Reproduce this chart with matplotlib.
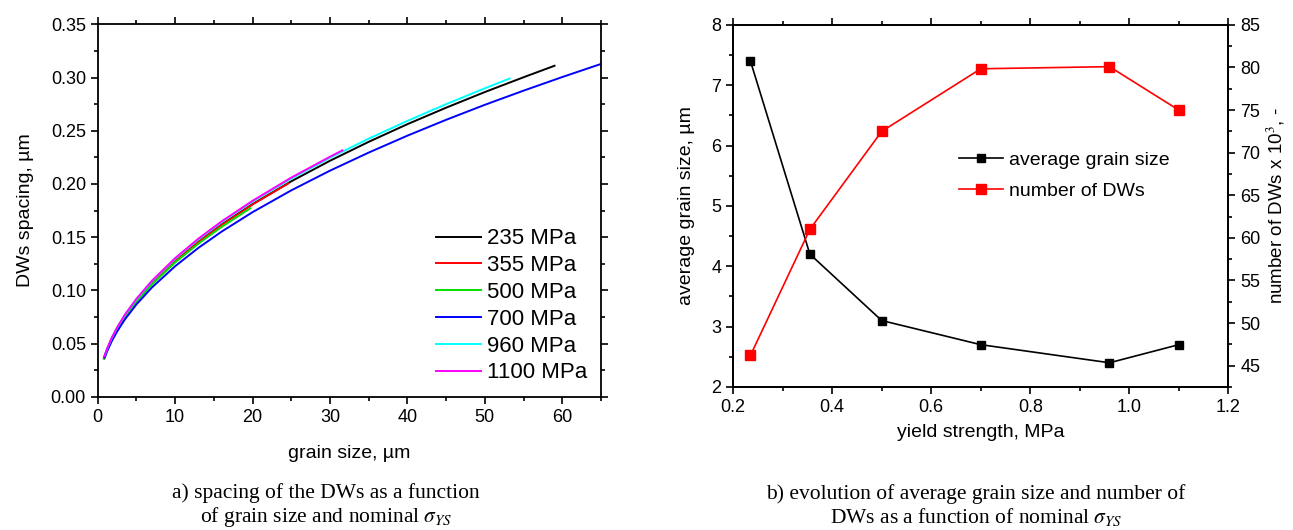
import numpy as np
import matplotlib
matplotlib.use("Agg")
import matplotlib.pyplot as plt
from matplotlib.ticker import MultipleLocator

plt.rcParams['font.family'] = ['Liberation Sans', 'DejaVu Sans']
plt.rcParams['mathtext.fontset'] = 'stix'

# DW spacing vs grain size, one curve per nominal yield strength
labels_a = ['235 MPa', '355 MPa', '500 MPa', '700 MPa', '960 MPa', '1100 MPa']
colors_a = ['black', 'red', '#00e000', 'blue', 'cyan', 'magenta']

x_235 = [0.8, 1.2, 1.8, 2.5, 3.5, 5, 7, 10, 13, 16, 20, 25, 30, 35, 40, 45, 50, 55, 59]
y_235 = [0.0362, 0.0444, 0.0543, 0.0640, 0.0758, 0.0906, 0.1072, 0.1281, 0.1460, 0.1620,
         0.1811, 0.2025, 0.2218, 0.2396, 0.2562, 0.2717, 0.2864, 0.3003, 0.3111]

x_355 = [0.8, 1.2, 1.8, 2.5, 3.5, 5, 7, 10, 13, 16, 20, 24.6]
y_355 = [0.0361, 0.0442, 0.0542, 0.0639, 0.0756, 0.0903, 0.1069, 0.1277, 0.1457, 0.1616,
         0.1807, 0.2004]

x_500 = [0.8, 1.2, 1.8, 2.5, 3.5, 5, 7, 10, 13, 16, 19.7]
y_500 = [0.0357, 0.0437, 0.0535, 0.0631, 0.0747, 0.0892, 0.1056, 0.1262, 0.1439, 0.1596,
         0.1771]

x_700 = [0.9, 1.2, 1.8, 2.5, 3.5, 5, 7, 10, 13, 16, 20, 25, 30, 35, 40, 45, 50, 55, 60, 65]
y_700 = [0.0368, 0.0425, 0.0521, 0.0613, 0.0726, 0.0868, 0.1027, 0.1227, 0.1399, 0.1552,
         0.1735, 0.1940, 0.2125, 0.2295, 0.2454, 0.2603, 0.2744, 0.2877, 0.3005, 0.3128]

x_960 = [0.9, 1.2, 1.8, 2.5, 3.5, 5, 7, 10, 13, 16, 20, 25, 30, 35, 40, 45, 50, 53.2]
y_960 = [0.0389, 0.0449, 0.0550, 0.0648, 0.0767, 0.0917, 0.1085, 0.1296, 0.1478, 0.1640,
         0.1834, 0.2050, 0.2246, 0.2426, 0.2593, 0.2750, 0.2899, 0.2991]

x_1100 = [0.85, 1.2, 1.8, 2.5, 3.5, 5, 7, 10, 13, 16, 20, 25, 30, 31.6]
y_1100 = [0.0380, 0.0451, 0.0553, 0.0651, 0.0771, 0.0921, 0.1090, 0.1303, 0.1486, 0.1648,
          0.1842, 0.2060, 0.2256, 0.2316]

# grain size and DW count vs yield strength
yield_strength = [0.235, 0.355, 0.5, 0.7, 0.96, 1.1]
avg_grain_size = [7.4, 4.2, 3.1, 2.7, 2.4, 2.7]
num_dws = [46.2, 61.0, 72.5, 79.85, 80.1, 75.0]

fig = plt.figure(figsize=(12.93, 5.30), dpi=100)

ax1 = fig.add_axes([0.0756, 0.2515, 0.3892, 0.7025])
series = [(x_235, y_235), (x_355, y_355), (x_500, y_500),
          (x_700, y_700), (x_960, y_960), (x_1100, y_1100)]
for (xs, ys), c, lab in zip(series, colors_a, labels_a):
    ax1.plot(xs, ys, color=c, lw=1.4, label=lab)
ax1.set_xlim(0, 65)
ax1.set_ylim(0, 0.35)
ax1.xaxis.set_major_locator(MultipleLocator(10))
ax1.xaxis.set_minor_locator(MultipleLocator(5))
ax1.yaxis.set_major_locator(MultipleLocator(0.05))
ax1.yaxis.set_minor_locator(MultipleLocator(0.025))
ax1.yaxis.set_major_formatter(matplotlib.ticker.FormatStrFormatter('%.2f'))
ax1.set_xlabel('grain size, \u00b5m', fontsize=14, labelpad=14)
ax1.set_ylabel('DWs spacing, \u00b5m', fontsize=14, labelpad=12)
ax1.legend(loc='lower right', bbox_to_anchor=(1.0, 0.0), frameon=False, fontsize=16,
           handlelength=2.0, handletextpad=0.3, labelspacing=0.26, borderaxespad=0.2)

ax2 = fig.add_axes([0.567, 0.270, 0.383, 0.683])
ax3 = ax2.twinx()
l1, = ax2.plot(yield_strength, avg_grain_size, color='black', lw=1.2, marker='s',
               ms=6, label='average grain size')
l2, = ax3.plot(yield_strength, num_dws, color='red', lw=1.2, marker='s',
               ms=7, label='number of DWs')
ax2.set_xlim(0.2, 1.2)
ax2.set_ylim(2, 8)
ax3.set_ylim(42.5, 85)
ax2.xaxis.set_major_locator(MultipleLocator(0.2))
ax2.xaxis.set_minor_locator(MultipleLocator(0.1))
ax2.xaxis.set_major_formatter(matplotlib.ticker.FormatStrFormatter('%.1f'))
ax2.yaxis.set_major_locator(MultipleLocator(1))
ax2.yaxis.set_minor_locator(MultipleLocator(0.5))
ax3.yaxis.set_major_locator(MultipleLocator(5))
ax3.yaxis.set_minor_locator(MultipleLocator(2.5))
ax2.set_xlabel('yield strength, MPa', fontsize=14, labelpad=6)
ax2.set_ylabel('average grain size, \u00b5m', fontsize=14, labelpad=12)
ax3.set_ylabel('number of DWs x 10$^3$, -', fontsize=13.5, labelpad=3)
ax2.legend(handles=[l1, l2], loc='upper left', bbox_to_anchor=(0.42, 0.70), frameon=False,
           fontsize=14, handlelength=2.3, handletextpad=0.3, labelspacing=0.7, numpoints=1)

for ax in (ax1, ax2, ax3):
    for s in ax.spines.values():
        s.set_linewidth(1.3)
    ax.tick_params(which='both', direction='out', labelsize=13, width=1.2)
    ax.tick_params(which='major', length=5)
    ax.tick_params(which='minor', length=3)

ax1.tick_params(which='both', top=True, right=True)
ax2.tick_params(which='both', top=True)

# captions
cap_a = 'a) spacing of the DWs as a function\nof grain size and nominal $\\sigma_{YS}$'
cap_b = 'b) evolution of average grain size and number of\nDWs as a function of nominal $\\sigma_{YS}$'
fig.text(0.252, 0.045, cap_a, ha='center', va='center', fontsize=15.5,
         family='Liberation Serif', linespacing=1.15)
fig.text(0.755, 0.045, cap_b, ha='center', va='center', fontsize=15.5,
         family='Liberation Serif', linespacing=1.15)

fig.savefig('out.png', dpi=100)
